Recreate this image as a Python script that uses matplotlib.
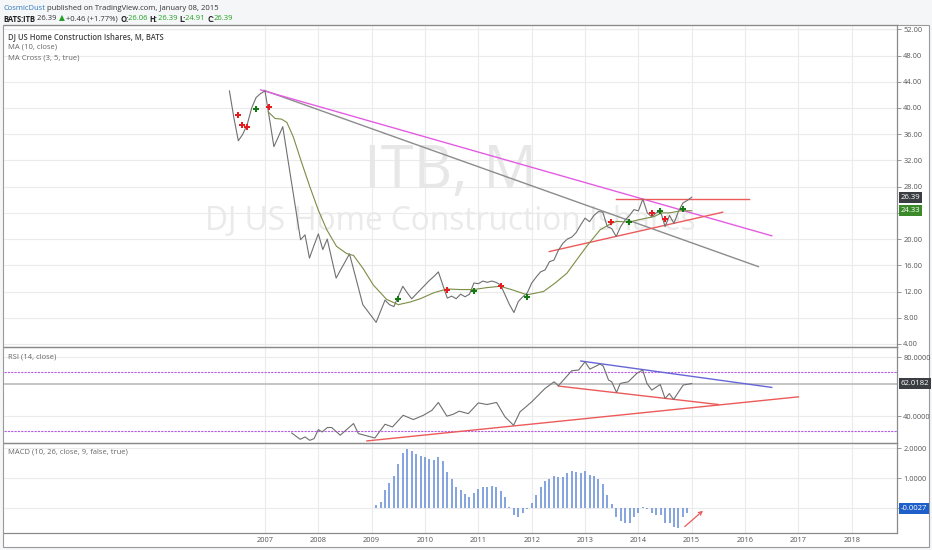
import numpy as np
import pandas as pd
import matplotlib
matplotlib.use('Agg')
import matplotlib.pyplot as plt
from matplotlib.patches import Rectangle
from matplotlib.transforms import blended_transform_factory

plt.rcParams['font.family'] = ['Open Sans', 'DejaVu Sans']

W, H = 932, 550

# monthly closes, May 2006 .. Jan 2015
price_start = '2006-05'
price_close = [
    42.6, 38.5, 35.0, 36.0, 37.5, 40.0, 41.6, 42.2,                        # 2006
    42.6, 38.4, 34.1, 35.6, 37.15, 32.8, 28.5, 24.2, 19.9, 20.65, 17.1, 19.0,  # 2007
    20.8, 18.4, 20.0, 17.0, 14.05, 15.3, 16.5, 17.75, 15.2, 12.6, 10.0, 9.1,   # 2008
    8.2, 7.3, 9.0, 10.7, 10.0, 9.7, 11.3, 12.8, 11.8, 10.9, 11.6, 12.3,        # 2009
    13.0, 13.7, 14.3, 15.0, 13.0, 11.0, 11.3, 10.9, 11.6, 11.2, 11.6, 13.3,    # 2010
    13.2, 13.6, 13.4, 13.6, 13.4, 13.0, 11.5, 10.0, 8.8, 10.5, 11.2, 11.8,     # 2011
    13.3, 14.2, 15.0, 15.3, 16.55, 16.8, 18.3, 19.35, 20.0, 20.3, 21.0, 22.15, # 2012
    23.2, 22.65, 23.6, 24.2, 24.1, 21.9, 21.6, 20.4, 21.9, 22.9, 23.6, 24.5,   # 2013
    24.3, 26.1, 24.0, 23.4, 24.0, 24.2, 21.9, 23.6, 22.4, 24.2, 25.5, 25.9,    # 2014
    26.39,                                                                 # 2015
]

# MA (10, close), read as points
ma_years = [2007.06, 2007.19, 2007.31, 2007.41, 2007.53, 2007.69, 2007.84, 2008.00,
            2008.16, 2008.34, 2008.53, 2008.66, 2008.84, 2009.03, 2009.28, 2009.50,
            2009.72, 2009.91, 2010.16, 2010.41, 2010.66, 2010.91, 2011.16, 2011.41,
            2011.66, 2011.91, 2012.22, 2012.44, 2012.66, 2012.84, 2013.03, 2013.28,
            2013.47, 2013.59, 2013.83, 2014.03, 2014.28, 2014.44, 2014.59, 2014.78, 2015.00]
ma_values = [39.4, 38.4, 38.3, 37.8, 35.6, 31.6, 28.0, 24.4,
             21.4, 18.9, 17.8, 17.5, 15.5, 13.0, 10.8, 10.0,
             10.4, 10.9, 11.8, 12.4, 12.3, 12.3, 12.6, 12.8,
             12.2, 11.5, 12.0, 13.3, 14.8, 16.8, 18.9, 21.4,
             22.3, 22.7, 22.6, 23.0, 23.4, 24.0, 24.0, 24.3, 24.33]

# MA Cross (3, 5) markers
cross_down_years = [2006.49, 2006.57, 2006.66, 2007.07, 2010.41, 2011.42, 2013.49, 2014.25, 2014.49]
cross_down_values = [39.0, 37.4, 37.05, 40.2, 12.25, 12.9, 22.6, 24.0, 23.1]
cross_up_years = [2006.83, 2009.50, 2010.91, 2011.91, 2013.82, 2014.41, 2014.83]
cross_up_values = [39.85, 10.9, 12.1, 11.15, 22.6, 24.3, 24.6]

# RSI (14, close)
rsi_years = [2007.50, 2007.66, 2007.75, 2007.84, 2007.92, 2008.00, 2008.07, 2008.17,
             2008.25, 2008.41, 2008.66, 2008.75, 2009.06, 2009.25, 2009.39, 2009.59,
             2009.78, 2009.97, 2010.13, 2010.25, 2010.41, 2010.53, 2010.64, 2010.81,
             2011.00, 2011.16, 2011.34, 2011.50, 2011.66, 2011.78, 2012.00, 2012.25,
             2012.42, 2012.50, 2012.75, 2012.88, 2013.00, 2013.09, 2013.28, 2013.34,
             2013.44, 2013.50, 2013.59, 2013.66, 2013.81, 2013.97, 2014.08, 2014.16,
             2014.25, 2014.41, 2014.50, 2014.58, 2014.66, 2014.84, 2015.00]
rsi_values = [28.5, 24.2, 25.8, 23.5, 24.7, 30.8, 29.2, 32.2,
              32.2, 27.0, 34.9, 28.1, 25.1, 34.4, 32.6, 40.5,
              37.6, 40.5, 43.9, 49.2, 39.9, 41.2, 43.3, 41.6,
              48.9, 47.8, 49.2, 39.4, 33.7, 42.8, 49.6, 58.7,
              63.2, 60.5, 70.7, 71.2, 76.8, 71.8, 75.2, 73.9,
              64.4, 63.2, 56.0, 62.1, 63.2, 68.9, 71.2, 62.1,
              57.6, 61.4, 51.9, 55.2, 51.2, 61.0, 62.0182]

# MACD histogram, monthly from Feb 2009
macd_start = '2009-02'
macd_hist = [
    0.10, 0.21, 0.60, 0.82, 1.07, 1.47, 1.84, 1.96, 1.90, 1.80,
    1.73, 1.69, 1.64, 1.60, 1.71, 1.56, 1.20, 0.96, 0.71, 0.60,
    0.47, 0.38, 0.49, 0.63, 0.71, 0.71, 0.73, 0.71, 0.58, 0.36,
    0.04, -0.24, -0.29, -0.18, -0.04, 0.18, 0.43, 0.69, 0.91, 0.98,
    1.07, 1.02, 1.04, 1.16, 1.23, 1.20, 1.16, 1.24, 1.11, 1.07,
    0.96, 0.80, 0.44, 0.13, -0.29, -0.42, -0.51, -0.49, -0.31, -0.16,
    0.04, -0.02, -0.16, -0.23, -0.23, -0.51, -0.51, -0.64, -0.68, -0.31,
    -0.16,
]

# hand drawn lines: (x0, y0, x1, y1)
price_gray_line = (2006.98, 42.7, 2016.25, 15.8)
price_pink_line = (2006.92, 42.75, 2016.50, 20.5)
price_red_flat = (2013.58, 26.1, 2016.08, 26.1)
price_red_rise = (2012.33, 18.1, 2015.58, 24.1)
rsi_blue_line = (2012.92, 77.3, 2016.50, 59.4)
rsi_red_upper = (2012.50, 60.3, 2015.50, 47.8)
rsi_red_lower = (2008.91, 23.1, 2017.00, 53.0)
macd_arrow = (2014.83, -0.68, 2015.25, -0.03)

years = list(range(2007, 2019))
price_ticks = list(range(4, 53, 4))

last_close = 26.39
last_ma = 24.33
last_rsi = 62.0182
last_macd = -0.0027


def month_x(start, n):
    p = pd.period_range(start, periods=n, freq='M')
    return np.asarray(p.year + (p.month - 1) / 12.0, dtype=float)


def seg(ax, line, color, lw=1.0):
    ax.plot([line[0], line[2]], [line[1], line[3]], color=color, lw=lw, zorder=3)


def px(x0, y0, w, h):
    return [x0 / W, 1 - (y0 + h) / H, w / W, h / H]


def right_label(ax, y, text, fc):
    tr = blended_transform_factory(ax.transAxes, ax.transData)
    ax.text(1.004, y, text, transform=tr, fontsize=5.6, color='white', va='center',
            ha='left', zorder=10, clip_on=False,
            bbox=dict(boxstyle='square,pad=0.25', fc=fc, ec='none'))


def write_runs(fig, x, y, runs, size):
    renderer = fig.canvas.get_renderer()
    for s, color, weight in runs:
        t = fig.text(x / W, 1 - y / H, s, color=color, fontsize=size, fontweight=weight,
                     va='center', ha='left')
        x += t.get_window_extent(renderer).width


fig = plt.figure(figsize=(W / 100, H / 100), dpi=100)
fig.patch.set_facecolor('#f4f6f8')
frame = Rectangle((3 / W, 1 - 547 / H), 926 / W, 522 / H, transform=fig.transFigure,
                  fc='white', ec='#9a9a9a', lw=0.8, zorder=-10)
fig.add_artist(frame)

ax_p = fig.add_axes(px(4, 25, 893, 322))
ax_r = fig.add_axes(px(4, 347, 893, 96), sharex=ax_p)
ax_m = fig.add_axes(px(4, 443, 893, 90), sharex=ax_p)

for ax in (ax_p, ax_r, ax_m):
    ax.set_facecolor('none')
    ax.set_xlim(2002.107, 2018.848)
    ax.set_xticks(years)
    ax.grid(True, color='#ebebeb', lw=0.8, zorder=0)
    ax.set_axisbelow(True)
    ax.yaxis.tick_right()
    ax.tick_params(axis='y', length=3, width=0.6, color='#888888', labelsize=5.4,
                   labelcolor='#555555', pad=1.5)
    ax.tick_params(axis='x', length=0, labelbottom=False)
    for side in ('top', 'bottom', 'right'):
        ax.spines[side].set_color('#8a8a8a')
        ax.spines[side].set_linewidth(0.9)
    ax.spines['left'].set_visible(False)

# price panel
x_close = month_x(price_start, len(price_close))
ax_p.set_ylim(3.54, 52.66)
ax_p.set_yticks(price_ticks)
# 24.00 sits under the MA value tag
ax_p.set_yticklabels(['' if v == 24 else '%.2f' % v for v in price_ticks])
ax_p.text(0.5, 0.494, 'ITB, M', transform=ax_p.transAxes, ha='center', va='baseline',
          fontsize=43, color='#e7e7e7', zorder=1)
ax_p.text(0.5, 0.363, 'DJ US Home Construction Ishares', transform=ax_p.transAxes,
          ha='center', va='baseline', fontsize=22.8, color='#eaeaea', zorder=1)
seg(ax_p, price_gray_line, '#8c8c8c')
seg(ax_p, price_pink_line, '#e45ce4')
seg(ax_p, price_red_flat, '#ec5a5a')
seg(ax_p, price_red_rise, '#ec5a5a')
ax_p.plot(x_close, price_close, color='#707070', lw=0.8, zorder=4)
ax_p.plot(ma_years, ma_values, color='#7b8d45', lw=0.8, zorder=4)
ax_p.plot(cross_down_years, cross_down_values, ls='none', marker='P', ms=5, mew=0,
          color='#e41e1e', zorder=5)
ax_p.plot(cross_up_years, cross_up_values, ls='none', marker='P', ms=5, mew=0,
          color='#137a13', zorder=5)
ax_p.text(0.0045, 0.965, 'DJ US Home Construction Ishares, M, BATS', transform=ax_p.transAxes,
          fontsize=5.5, fontweight='semibold', color='#444444', va='center')
ax_p.text(0.0045, 0.931, 'MA (10, close)', transform=ax_p.transAxes,
          fontsize=5.5, color='#666666', va='center')
ax_p.text(0.0045, 0.897, 'MA Cross (3, 5, true)', transform=ax_p.transAxes,
          fontsize=5.5, color='#666666', va='center')
right_label(ax_p, last_close, '%.2f' % last_close, '#3a3d42')
right_label(ax_p, last_ma, '%.2f' % last_ma, '#3b8a2a')

# RSI panel
ax_r.set_ylim(21.7, 86.8)
ax_r.set_yticks([40, 80])
ax_r.set_yticklabels(['40.0000', '80.0000'])
ax_r.axhline(70, color='#b45ae6', lw=0.8, ls=(0, (2, 1)), zorder=2)
ax_r.axhline(30, color='#b45ae6', lw=0.8, ls=(0, (2, 1)), zorder=2)
ax_r.axhline(last_rsi, color='#c4c4c4', lw=1.4, zorder=2)
seg(ax_r, rsi_blue_line, '#6666d8')
seg(ax_r, rsi_red_upper, '#ec5a5a')
seg(ax_r, rsi_red_lower, '#ec5a5a')
ax_r.plot(rsi_years, rsi_values, color='#707070', lw=0.8, zorder=4)
ax_r.text(0.0045, 0.9, 'RSI (14, close)', transform=ax_r.transAxes,
          fontsize=5.5, color='#666666', va='center')
right_label(ax_r, last_rsi, '%.4f' % last_rsi, '#3a3d42')

# MACD panel
x_hist = month_x(macd_start, len(macd_hist))
ax_m.set_ylim(-0.833, 2.167)
ax_m.set_yticks([0, 1, 2])
ax_m.set_yticklabels(['', '1.0000', '2.0000'])
ax_m.vlines(x_hist, 0, macd_hist, color='#6f93d8', lw=1.2, zorder=3)
ax_m.annotate('', xy=(macd_arrow[2], macd_arrow[3]), xytext=(macd_arrow[0], macd_arrow[1]),
              arrowprops=dict(arrowstyle='->', color='#ec5a5a', lw=0.9,
                              mutation_scale=6), zorder=4)
ax_m.text(0.0045, 0.9, 'MACD (10, 26, close, 9, false, true)', transform=ax_m.transAxes,
          fontsize=5.5, color='#666666', va='center')
right_label(ax_m, last_macd, '%.4f' % last_macd, '#1f5fc9')
ax_m.tick_params(axis='x', labelbottom=True, labelsize=5.4, labelcolor='#555555', pad=3)
ax_m.set_xticklabels([str(y) for y in years])

# header
green = '#23a023'
write_runs(fig, 3, 8.5, [('CosmicDust', '#2f7bbf', 'normal'),
                         (' published on TradingView.com, January 08, 2015', '#333333', 'normal')], 5.5)
write_runs(fig, 3, 19, [('BATS:ITB', '#222222', 'bold'), (' 26.39 ', '#333333', 'normal'),
                        ('▲', green, 'normal'), (' +0.46 (+1.77%) ', '#333333', 'normal'),
                        ('O:', '#222222', 'bold'), ('26.06 ', green, 'normal'),
                        ('H:', '#222222', 'bold'), ('26.39 ', green, 'normal'),
                        ('L:', '#222222', 'bold'), ('24.91 ', green, 'normal'),
                        ('C:', '#222222', 'bold'), ('26.39', green, 'normal')], 5.5)

fig.savefig('out.png', dpi=100, facecolor=fig.get_facecolor())
